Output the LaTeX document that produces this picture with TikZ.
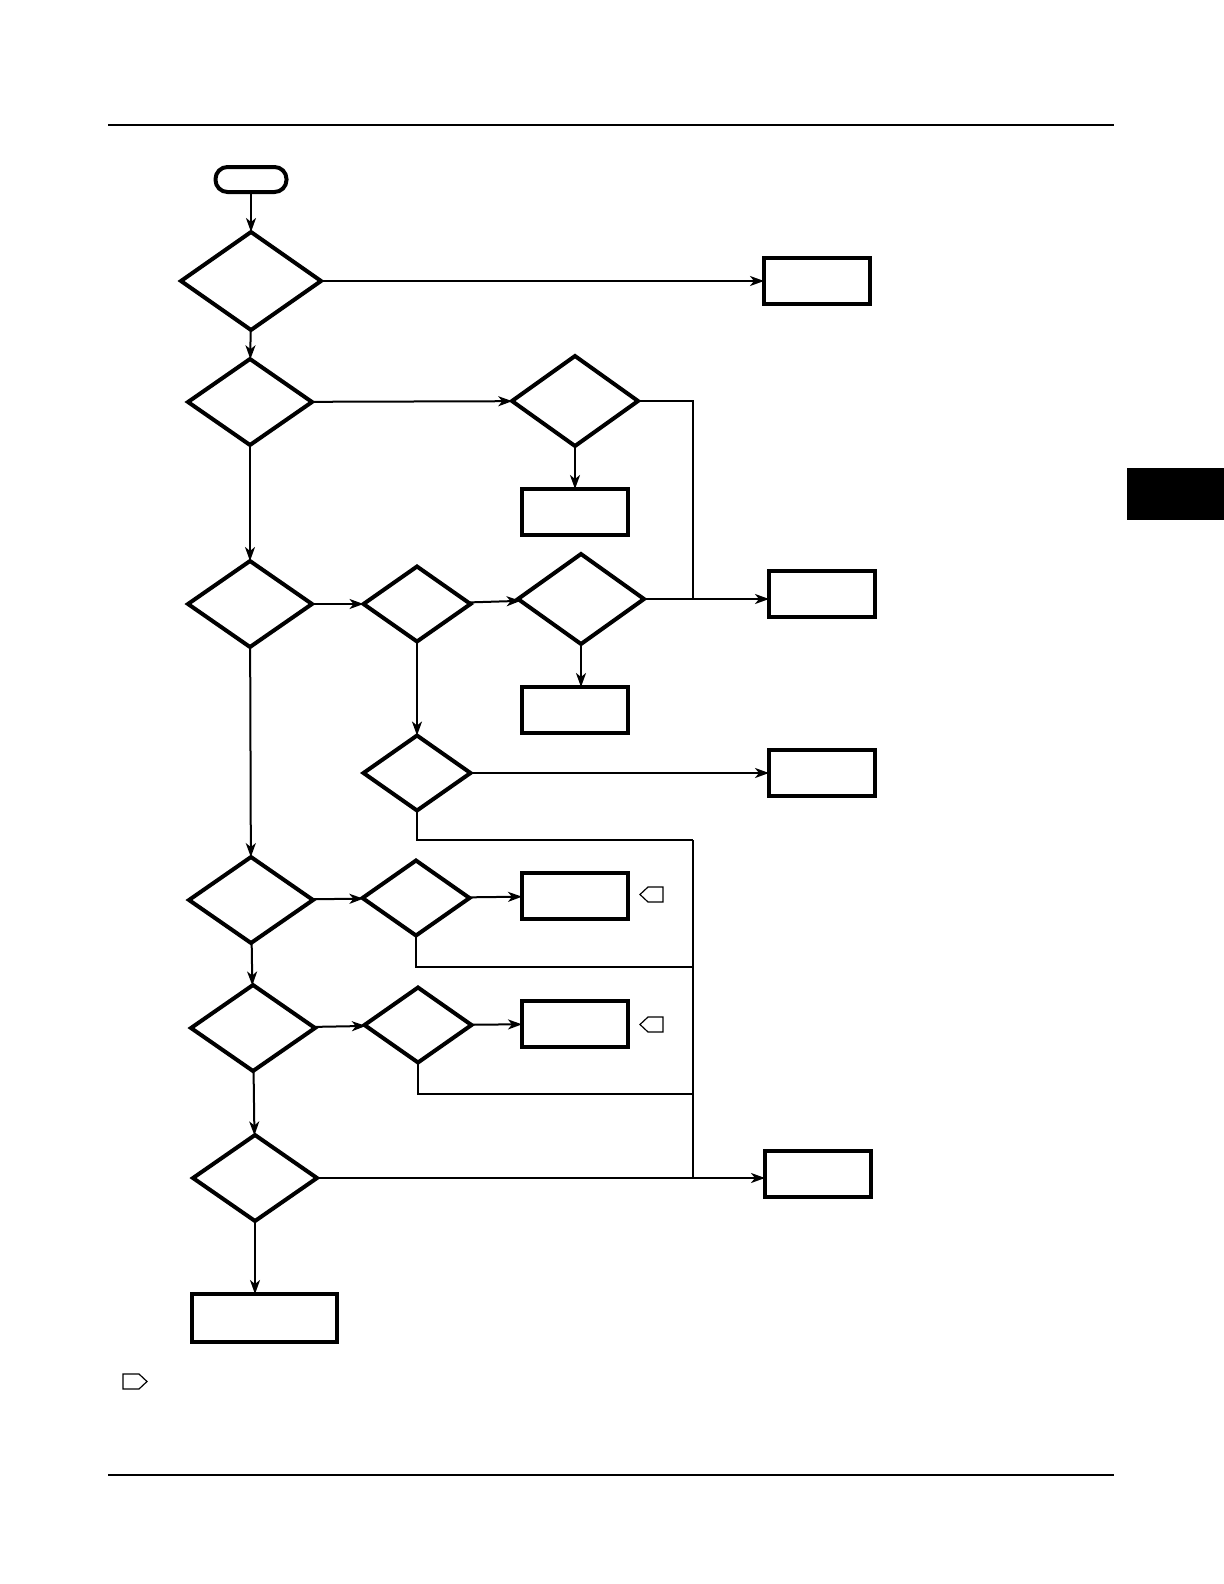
\documentclass[tikz,border=0pt]{standalone}
\usepackage{tikz}
\usetikzlibrary{arrows.meta,positioning,shapes.geometric}
\newcommand{\tagleft}[2]{\draw[tagmark] (#1,#2) -- ++(8,-7.5) -- ++(15,0) -- ++(0,15) -- ++(-15,0) -- cycle;}
\newcommand{\tagright}[2]{\draw[tagmark] (#1,#2) -- ++(-8,-7.5) -- ++(-16,0) -- ++(0,15) -- ++(16,0) -- cycle;}

\begin{document}
\begin{tikzpicture}[
  x=0.5pt, y=-0.5pt,
  decision/.style={draw, diamond, line width=2pt, inner sep=0pt, outer sep=0pt, minimum width=62pt, minimum height=43pt},
  smalldec/.style={decision, minimum width=53.5pt, minimum height=37.5pt},
  action/.style={draw, rectangle, line width=2pt, inner sep=0pt, outer sep=0pt, minimum width=53pt, minimum height=23pt},
  terminal/.style={draw, rectangle, rounded corners=6pt, line width=2pt, inner sep=0pt, outer sep=0pt, minimum width=35.5pt, minimum height=12.5pt},
  arrow/.style={-{Stealth[length=7pt, width=5pt, inset=2pt]}, line width=1pt},
  line/.style={line width=1pt},
  tagmark/.style={line width=0.6pt, line join=miter}
]
  \useasboundingbox (0,0) rectangle (1224,1584);

  % page frame
  \draw[line] (108,125) -- (1114,125);
  \draw[line] (108,1475) -- (1114,1475);
  \fill (1127,468) rectangle (1224,520);

  % left column
  \node[terminal] (start) at (251,179.5) {};
  \node[decision, minimum width=70pt, minimum height=49pt] (d1) at (251,281) {};
  \node[decision] (d2) at (250,402) {};
  \node[decision] (d4) at (250,604) {};
  \node[decision] (d8) at (251,900) {};
  \node[decision] (d10) at (253,1028) {};
  \node[decision] (d12) at (255,1178) {};
  \node[action, minimum width=72.5pt, minimum height=24pt] (done) at (264,1318) {};

  % middle column
  \node[decision, minimum width=63pt, minimum height=45pt] (d3) at (575,401) {};
  \node[action] (b1) at (575,512) {};
  \node[smalldec] (d5) at (417,604) {};
  \node[decision, minimum width=63pt, minimum height=45pt] (d6) at (581,599) {};
  \node[action] (b2) at (575,710) {};
  \node[smalldec] (d7) at (417,773) {};
  \node[smalldec] (d9) at (416,898) {};
  \node[action] (b3) at (575,896) {};
  \node[smalldec] (d11) at (418,1025) {};
  \node[action] (b4) at (575,1024) {};

  % right column
  \node[action] (r1) at (817,281) {};
  \node[action] (r2) at (822,594) {};
  \node[action] (r3) at (822,773) {};
  \node[action] (r4) at (818,1174) {};

  % bus
  \coordinate (j3) at (693,599);
  \coordinate (j7) at (693,840);
  \coordinate (j12) at (693,1177);

  \draw[arrow] (start) -- (d1);
  \draw[arrow] (d1) -- (r1);
  \draw[arrow] (d1) -- (d2);
  \draw[arrow] (d2) -- (d3);
  \draw[arrow] (d3) -- (b1);
  \draw[line] (d3.east) -| (j3);
  \draw[arrow] (d2) -- (d4);
  \draw[arrow] (d4) -- (d5);
  \draw[arrow] (d5) -- (d6);
  \draw[arrow] (d6.east) -- (d6.east -| r2.west);
  \draw[arrow] (d6.south) -- (d6.south |- b2.north);
  \draw[arrow] (d5) -- (d7);
  \draw[arrow] (d7) -- (r3);
  \draw[line] (d7.south) |- (j7);
  \draw[line] (j7) -- (j12);
  \draw[arrow] (d4) -- (d8);
  \draw[arrow] (d8) -- (d9);
  \draw[arrow] (d9) -- (b3);
  \draw[line] (d9.south) |- (j7 |- 0,967);
  \draw[arrow] (d8) -- (d10);
  \draw[arrow] (d10) -- (d11);
  \draw[arrow] (d11) -- (b4);
  \draw[line] (d11.south) |- (j7 |- 0,1094);
  \draw[arrow] (d10) -- (d12);
  \draw[arrow] (d12.east) -- (d12.east -| r4.west);
  \draw[arrow] (d12.south) -- (d12.south |- done.north);

  % markers
  \tagleft{640}{894.5}
  \tagleft{640}{1024.5}
  \tagright{147}{1381.5}
\end{tikzpicture}
\end{document}
